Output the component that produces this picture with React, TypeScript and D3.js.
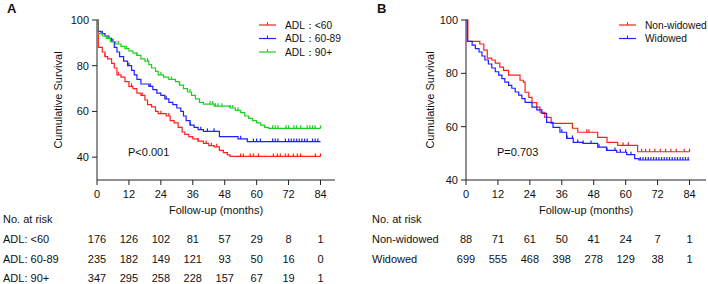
import * as d3 from 'd3';

// Panel A: survival by ADL score (time in months, survival %)
const adlLow: [number, number][] = [
  [0, 100], [0.5, 88], [2, 86], [3, 84], [4, 83], [5.5, 81], [6.5, 79], [7.5, 76], [9, 75],
  [10.5, 73], [12, 71], [13.5, 70], [15, 68], [16.5, 67], [18, 65], [19, 63], [20.5, 62],
  [22, 60], [23, 59], [26, 58], [27.5, 56], [29, 55], [30.5, 53], [32, 51], [33, 50],
  [34.5, 49], [36, 48], [38, 47], [40, 46], [42, 45], [44, 44.5], [46, 43], [47.5, 42],
  [49, 41], [50, 40.3]
];
const adlMid: [number, number][] = [
  [0, 100], [0.3, 95], [1.5, 94], [3, 93], [4.5, 92], [5.5, 90.5], [6.5, 88], [7.5, 86],
  [8.5, 84], [10, 82], [11.5, 80], [13, 78], [14, 76], [15, 74], [16.5, 72], [19.5, 71],
  [21, 69.5], [22.5, 68], [24, 67], [25.5, 65.5], [27, 64], [28.5, 63], [30, 61.5],
  [31.5, 60], [32.5, 58], [33.5, 56], [35, 54], [36.5, 53], [38, 52], [40, 51.3], [46, 49],
  [53, 48], [56.5, 46.8]
];
const adlHigh: [number, number][] = [
  [0, 100], [0.3, 94], [2, 93], [3.5, 92], [5, 90.5], [7, 89.5], [9, 88.5], [10.5, 87.5],
  [12, 86.5], [13.5, 85.5], [15, 84.5], [16.5, 83], [18, 82], [19.5, 80.5], [20.5, 79],
  [22, 77.5], [23, 76], [25, 75], [27, 74], [29.5, 73], [31, 71.5], [32.5, 70], [34, 68.5],
  [35.5, 67], [37, 65.5], [38.5, 64], [40, 63.2], [44, 62.3], [50, 61.5], [52, 60.5],
  [54, 59.5], [55.5, 58], [57, 57], [58.5, 56], [60, 55], [61.5, 54], [63, 53], [64.5, 52.6]
];
const adlLowCensor = [3, 8, 13, 17, 24, 27, 38, 41, 43, 45, 54, 55, 57.6, 58.8, 60.7, 66.3, 67.8, 68.9, 70.8, 71.9, 73.8, 75.3, 76.5, 82.1, 84];
const adlMidCensor = [2, 6, 12, 20, 26, 35, 39, 41.5, 44, 54, 58.8, 60, 61.4, 66, 67, 68, 70.8, 72, 73, 74, 75, 76, 77, 78, 79, 81, 82, 83];
const adlHighCensor = [4, 8, 11, 15, 19, 24, 28, 31, 35, 42.5, 43.5, 44.5, 45.5, 47, 50, 51, 53, 66, 67, 68, 71, 72, 74, 75, 76.5, 79, 80, 81, 82, 84];

// Panel B: survival by marital status
const nonWidowed: [number, number][] = [
  [0, 100], [0.7, 92], [5.2, 91], [6.7, 88.7], [8, 85.7], [9.7, 85], [11, 83.8], [12.7, 82.3],
  [14.1, 81.1], [16, 79.3], [20.3, 77.4], [21.6, 76.7], [22.2, 72.9], [23.6, 71], [24.8, 69],
  [26.6, 67.3], [27.8, 65.4], [29.6, 63.5], [32, 61.2], [40, 59.4], [42, 57.9], [49.5, 56],
  [53, 54.1], [57, 53], [64.5, 50.6]
];
const widowed: [number, number][] = [
  [0, 100], [0.5, 92], [2.3, 90.6], [3.5, 89.3], [4.9, 88], [6, 86.5], [7.1, 85], [8.4, 83.5],
  [9.7, 82], [11, 80.6], [12.3, 79.3], [13.5, 78], [14.6, 76.7], [16, 75.5], [17.2, 74.4],
  [18.5, 73], [19.8, 71.8], [21, 70.5], [22.2, 69.1], [24.8, 67.3], [26.6, 66.3], [28.5, 65],
  [30.3, 61.6], [32.7, 59.7], [35.3, 57.9], [37.8, 55.6], [40.3, 54.1], [44, 53.7],
  [49.5, 52.3], [52.8, 51.1], [56.6, 50.4], [60.4, 49.5], [63.4, 48], [65, 47.5]
];
const nonWidowedCensor = [45.4, 46.2, 59, 61, 66, 67.5, 69, 71, 73, 75, 77, 79, 82, 84];
const widowedCensor = [36, 38, 40, 42, 44, 47, 50, 53, 56, 58, 60, 62, 65.5, 66.5, 67.5, 68.5, 69.5, 70.5, 71.5, 72.5, 73.5, 74.5, 75.5, 76.5, 77.5, 78.5, 79.5, 80.5, 81.5, 82.5, 83.5];

const riskTimes = [0, 12, 24, 36, 48, 60, 72, 84];
const xTicks = [0, 12, 24, 36, 48, 60, 72, 84];
const riskA = [
  { label: 'ADL: <60', values: [176, 126, 102, 81, 57, 29, 8, 1] },
  { label: 'ADL: 60-89', values: [235, 182, 149, 121, 93, 50, 16, 0] },
  { label: 'ADL: 90+', values: [347, 295, 258, 228, 157, 67, 19, 1] }
];
const riskB = [
  { label: 'Non-widowed', values: [88, 71, 61, 50, 41, 24, 7, 1] },
  { label: 'Widowed', values: [699, 555, 468, 398, 278, 129, 38, 1] }
];

const FONT = '"Liberation Sans", Arial, sans-serif';
const AXIS = '#222';

interface Series {
  name: string;
  color: string;
  points: [number, number][];
  censor: number[];
}

interface PanelProps {
  letter: string;
  axisX: number;
  axisEnd: number;
  yDomain: [number, number];
  yTicks: number[];
  yTitleX: number;
  series: Series[];
  pText: string;
  pX: number;
  legendX: number;
  risk: { label: string; values: number[] }[];
  riskLabelX: number;
  letterX: number;
}

const stepAt = (pts: [number, number][], t: number) => {
  let v = pts[0][1];
  for (const p of pts) if (p[0] <= t) v = p[1];
  return v;
};

const Panel = (p: PanelProps) => {
  const x = d3.scaleLinear().domain([0, 84]).range([p.axisX, p.axisX + 223.5]);
  const y = d3.scaleLinear().domain(p.yDomain).range([180, 20]);
  const line = d3.line<[number, number]>()
    .x(d => x(d[0]))
    .y(d => y(d[1]))
    .curve(d3.curveStepAfter);
  const rowY = [243, 263, 282];

  return (
    <g fontFamily={FONT} fontSize={11} fill="#111">
      <text x={p.letterX} y={13} fontWeight="bold" fontSize={13}>{p.letter}</text>
      {/* axes */}
      <line x1={p.axisX} x2={p.axisX} y1={20} y2={180} stroke={AXIS} strokeWidth={1} />
      <line x1={p.axisX} x2={p.axisEnd} y1={180} y2={180} stroke={AXIS} strokeWidth={1} />
      {p.yTicks.map(t => (
        <g key={t}>
          <line x1={p.axisX - 5} x2={p.axisX} y1={y(t)} y2={y(t)} stroke={AXIS} />
          <text x={p.axisX - 8} y={y(t)} dy="0.35em" textAnchor="end">{t}</text>
        </g>
      ))}
      {xTicks.map(t => (
        <g key={t}>
          <line x1={x(t)} x2={x(t)} y1={180} y2={185} stroke={AXIS} />
          <text x={x(t)} y={198} textAnchor="middle">{t}</text>
        </g>
      ))}
      <text x={(p.axisX + p.axisEnd) / 2} y={214} textAnchor="middle">Follow-up (months)</text>
      <text transform={`translate(${p.yTitleX},100) rotate(-90)`} textAnchor="middle" dy="0.35em">
        Cumulative Survival
      </text>
      {/* curves */}
      {p.series.map(s => {
        const last = s.points[s.points.length - 1];
        const pts: [number, number][] = [...s.points, [84, last[1]]];
        return (
          <g key={s.name}>
            <path d={line(pts) ?? ''} fill="none" stroke={s.color} strokeWidth={1.2} />
            {s.censor.map((c, i) => {
              const cy = y(stepAt(pts, c));
              return <line key={i} x1={x(c)} x2={x(c)} y1={cy - 3} y2={cy} stroke={s.color} strokeWidth={1.2} />;
            })}
          </g>
        );
      })}
      <text x={p.pX} y={152} dy="0.35em">{p.pText}</text>
      {/* legend */}
      {p.series.map((s, i) => {
        const ly = 25 + i * 13.5;
        return (
          <g key={s.name}>
            <line x1={p.legendX} x2={p.legendX + 17} y1={ly} y2={ly} stroke={s.color} strokeWidth={1.2} />
            <line x1={p.legendX + 8.5} x2={p.legendX + 8.5} y1={ly - 3} y2={ly} stroke={s.color} />
            <text x={p.legendX + 26} y={ly} dy="0.35em" fontSize={10.2}>{s.name}</text>
          </g>
        );
      })}
      {/* risk table */}
      <text x={p.riskLabelX} y={223}>No. at risk</text>
      {p.risk.map((r, i) => (
        <g key={r.label}>
          <text x={p.riskLabelX} y={rowY[i]}>{r.label}</text>
          {r.values.map((v, j) => (
            <text key={j} x={x(riskTimes[j])} y={rowY[i]} textAnchor="middle">{v}</text>
          ))}
        </g>
      ))}
    </g>
  );
};

export default function App() {
  const seriesA: Series[] = [
    { name: 'ADL\uFF1A<60', color: '#ff1f1f', points: adlLow, censor: adlLowCensor },
    { name: 'ADL\uFF1A60-89', color: '#1f1fff', points: adlMid, censor: adlMidCensor },
    { name: 'ADL\uFF1A90+', color: '#1fcf1f', points: adlHigh, censor: adlHighCensor }
  ];
  const seriesB: Series[] = [
    { name: 'Non-widowed', color: '#ff1f1f', points: nonWidowed, censor: nonWidowedCensor },
    { name: 'Widowed', color: '#1f1fff', points: widowed, censor: widowedCensor }
  ];
  return (
    <div style={{ position: 'absolute', left: 0, top: 0, background: '#fff' }}>
      <svg width={708} height={284} style={{ display: 'block' }}>
        <rect width={708} height={284} fill="#fff" />
        <Panel
          letter="A" letterX={7} axisX={97} axisEnd={335}
          yDomain={[30, 100]} yTicks={[40, 60, 80, 100]} yTitleX={58}
          series={seriesA} pText="P<0.001" pX={128} legendX={259}
          risk={riskA} riskLabelX={3}
        />
        <Panel
          letter="B" letterX={377} axisX={466} axisEnd={706}
          yDomain={[40, 100]} yTicks={[40, 60, 80, 100]} yTitleX={430}
          series={seriesB} pText="P=0.703" pX={497} legendX={619}
          risk={riskB} riskLabelX={372}
        />
      </svg>
    </div>
  );
}
